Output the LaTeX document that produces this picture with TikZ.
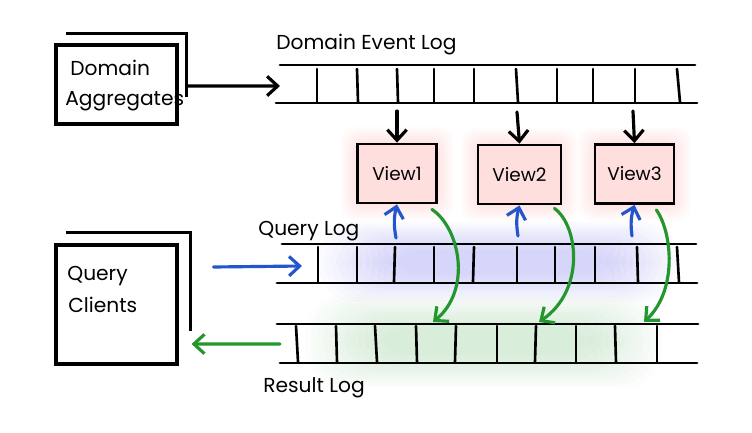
\documentclass[tikz,border=0pt]{standalone}
\usepackage{fontspec}
\setmainfont{Poppins}
\usetikzlibrary{arrows.meta, positioning, backgrounds}
\definecolor{inkblue}{RGB}{35,85,205}
\definecolor{inkgreen}{RGB}{35,150,45}
\definecolor{glowblue}{RGB}{60,60,230}
\tikzset{
  box/.style={draw, line width=1.8pt, minimum width=2.42cm, inner sep=0pt}, % front sheet of a stack
  stack/.style={line width=1.8pt}, % back sheet of a stack
  view/.style={draw, line width=1.6pt, fill=red!13, minimum width=1.58cm, minimum height=1.18cm,
    inner sep=0pt, font=\fontsize{10.5}{12}\selectfont},
  rail/.style={line width=1.7pt, line cap=round},
  tick/.style={line width=1.5pt, line cap=round},
  tag/.style={inner sep=0pt, font=\fontsize{11.5}{13}\selectfont},
  flow/.style={line width=1.8pt, line cap=round, -{Straight Barb[length=6pt, width=11pt]}},
}

\begin{document}
\begin{tikzpicture}[x=0.02cm, y=-0.02cm]
  \useasboundingbox (0,0) rectangle (752,433);

  % glows behind the query and result logs
  \foreach \i in {0,...,11}
    \fill[glowblue, opacity=0.018, rounded corners=22pt] (318+\i*6, 222+\i*2.5) rectangle (680-\i*6, 302-\i*2.5);
  \foreach \i in {0,...,11}
    \fill[inkgreen, opacity=0.016, rounded corners=22pt] (305+\i*6, 294+\i*3) rectangle (662-\i*6, 388-\i*3);

  % stacks
  \node[box, minimum height=1.58cm] (agg) at (116.5,84.5) {};
  \draw[stack] ([shift={(12,-10)}]agg.north west) -| ([shift={(8,12.5)}]agg.east);
  \node[tag, anchor=base west] (aggA) at (70,75) {Domain};
  \node[tag, anchor=base west] (aggB) at (65,105) {Aggregates};

  \node[box, minimum height=2.38cm] (clients) at (116.5,304.5) {};
  \draw[stack] ([shift={(12,-11)}]clients.north west) -| ([shift={(12,26.5)}]clients.east);
  \node[tag, anchor=base west] (cliA) at (67,280) {Query};
  \node[tag, anchor=base west] (cliB) at (68,312) {Clients};

  % views
  \node[view] (view1) at (397,173.5) {View1};
  \node[view, minimum width=1.66cm] (view2) at (519.5,174.5) {View2};
  \node[view] (view3) at (634.5,174) {View3};
  \begin{scope}[on background layer]
    \foreach \v in {view1,view2,view3}
      \foreach \i in {1,...,8}
        \fill[red, opacity=0.012, rounded corners=8pt] ([shift={(-\i*2,-\i*2)}]\v.north west) rectangle ([shift={(\i*2,\i*2)}]\v.south east);
  \end{scope}

  % logs
  \node[tag, anchor=base west] (evtlog) at (276,49) {Domain Event Log};
  \draw[rail] (280,65) -- (695,65);
  \draw[rail] (276,103) -- (697,103);
  \foreach \t/\b in {317/317, 357/358, 397/398, 434/434, 474/474, 516/518, 557/557, 593/593, 635/635, 677/680}
    \draw[tick] (\t,69) -- (\b,102);

  \node[tag, anchor=base west] (qrylog) at (258,235) {Query Log};
  \draw[rail] (282,244) -- (696,244);
  \draw[rail] (277,283) -- (697,283);
  \foreach \t/\b in {318/318, 357/357, 395/394, 434/434, 474/473, 517/517, 555/555, 595/595, 637/638, 677/679}
    \draw[tick] (\t,247) -- (\b,282);

  \node[tag, anchor=base west] (reslog) at (263,392) {Result Log};
  \draw[rail] (277,324) -- (698,324);
  \draw[rail] (280,363) -- (697,363);
  \foreach \t/\b in {296/298, 336/337, 375/377, 416/417, 456/455, 497/497, 536/535, 576/576, 615/616, 657/657}
    \draw[tick] (\t,326) -- (\b,362);

  % connector ends on the logs
  \coordinate (evtin) at (280,86);
  \coordinate (evt1) at (397,111);
  \coordinate (evt2) at (517,112);
  \coordinate (evt3) at (633,111);
  \coordinate (qryin) at (302,266);
  \coordinate (qry1) at (396,238);
  \coordinate (qry2) at (518,236);
  \coordinate (qry3) at (632,236);
  \coordinate (resout) at (280,344);
  \coordinate (res1) at (433,322);
  \coordinate (res2) at (539,322);
  \coordinate (res3) at (644,322);

  % connectors
  \draw[flow] ([shift={(8,1.5)}]agg.east) -- (evtin);
  \foreach \k in {1,2,3}
    \draw[flow] (evt\k) -- (view\k.north);
  \foreach \k in {1,2,3}
    \draw[flow, inkblue] (qry\k) to[bend left=12] (view\k.south);
  \draw[flow, inkgreen] ([shift={(-6,5)}]view1.south east) .. controls (460,228) and (472,290) .. (res1);
  \draw[flow, inkgreen] ([shift={(-8,3)}]view2.south east) .. controls (578,225) and (586,290) .. (res2);
  \draw[flow, inkgreen] ([shift={(-19,5)}]view3.south east) .. controls (672,232) and (678,290) .. (res3);
  \draw[flow, inkblue] ([shift={(35,-37.5)}]clients.east) -- (qryin);
  \draw[flow, inkgreen] (resout) -- ([shift={(13,39.5)}]clients.east);
\end{tikzpicture}
\end{document}
